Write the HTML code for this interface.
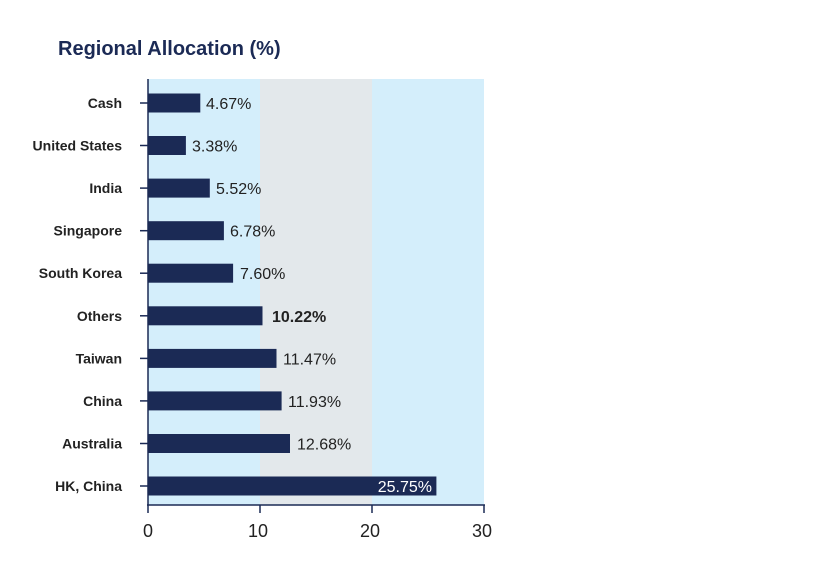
<!DOCTYPE html>
<html><head><meta charset="utf-8"><style>body{margin:0;background:#fff}</style></head><body>
<svg width="828" height="575" xmlns="http://www.w3.org/2000/svg" font-family="Liberation Sans, sans-serif">
<text x="58" y="55" font-size="20" font-weight="bold" fill="#1b2a55">Regional Allocation (%)</text>
<rect x="148" y="79" width="112" height="426" fill="#d4eefb"/>
<rect x="260" y="79" width="112" height="426" fill="#e3e8eb"/>
<rect x="372" y="79" width="112" height="426" fill="#d4eefb"/>
<g fill="#1b2a55">
<rect x="148" y="93.5" width="52.3" height="19"/>
<rect x="148" y="136" width="37.9" height="19"/>
<rect x="148" y="178.6" width="61.8" height="19"/>
<rect x="148" y="221.2" width="75.9" height="19"/>
<rect x="148" y="263.7" width="85.1" height="19"/>
<rect x="148" y="306.3" width="114.5" height="19"/>
<rect x="148" y="348.9" width="128.5" height="19"/>
<rect x="148" y="391.4" width="133.6" height="19"/>
<rect x="148" y="434" width="142" height="19"/>
<rect x="148" y="476.5" width="288.4" height="19"/>
</g>
<g stroke="#1b2a55" stroke-width="1.5">
<line x1="148" y1="79" x2="148" y2="505"/>
<line x1="147" y1="505" x2="485" y2="505"/>
<line x1="148" y1="505" x2="148" y2="513"/><line x1="260" y1="505" x2="260" y2="513"/>
<line x1="372" y1="505" x2="372" y2="513"/><line x1="484" y1="505" x2="484" y2="513"/>
<line x1="140" y1="103" x2="148" y2="103"/><line x1="140" y1="145.5" x2="148" y2="145.5"/>
<line x1="140" y1="188.1" x2="148" y2="188.1"/><line x1="140" y1="230.7" x2="148" y2="230.7"/>
<line x1="140" y1="273.2" x2="148" y2="273.2"/><line x1="140" y1="315.8" x2="148" y2="315.8"/>
<line x1="140" y1="358.4" x2="148" y2="358.4"/><line x1="140" y1="400.9" x2="148" y2="400.9"/>
<line x1="140" y1="443.5" x2="148" y2="443.5"/><line x1="140" y1="486" x2="148" y2="486"/>
</g>
<g font-size="14" font-weight="bold" fill="#222" text-anchor="end">
<text x="122" y="108">Cash</text><text x="122" y="150.5">United States</text>
<text x="122" y="193">India</text><text x="122" y="235.7">Singapore</text>
<text x="122" y="278">South Korea</text><text x="122" y="320.8">Others</text>
<text x="122" y="363.4">Taiwan</text><text x="122" y="405.9">China</text>
<text x="122" y="448.5">Australia</text><text x="122" y="491">HK, China</text>
</g>
<g font-size="16" fill="#222">
<text x="206" y="109">4.67%</text><text x="192" y="151.5">3.38%</text>
<text x="216" y="194">5.52%</text><text x="230" y="236.7">6.78%</text>
<text x="240" y="279">7.60%</text><text x="272" y="321.8" font-weight="bold">10.22%</text>
<text x="283" y="364.4">11.47%</text><text x="288" y="406.9">11.93%</text>
<text x="297" y="449.5">12.68%</text>
<text x="432" y="492" fill="#fff" text-anchor="end">25.75%</text>
</g>
<g font-size="18" fill="#222" text-anchor="middle">
<text x="148" y="537">0</text><text x="258" y="537">10</text><text x="370" y="537">20</text><text x="482" y="537">30</text>
</g>
</svg>
</body></html>
